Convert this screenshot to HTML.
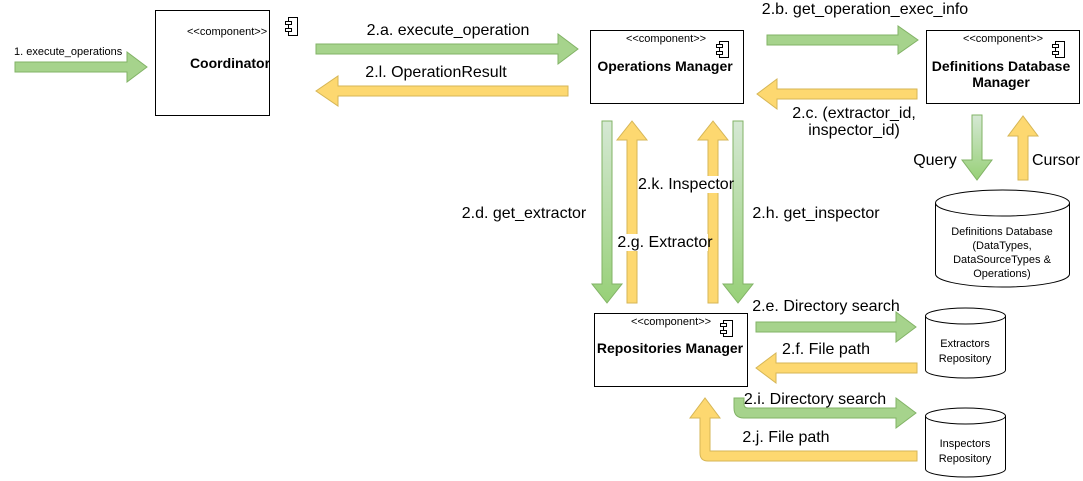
<!DOCTYPE html>
<html><head><meta charset="utf-8"><style>
body{margin:0;background:#fff;}
svg{display:block;font-family:"Liberation Sans",Arial,sans-serif;}
.g{fill:#a6d38c;stroke:#82b366;stroke-width:1;}
.y{fill:#fdd870;stroke:#d6b656;stroke-width:1;}
.box{fill:#fff;stroke:#000;stroke-width:1;}
.t{font-size:16px;fill:#000;}
.s{font-size:11px;fill:#000;}
.b{font-size:14px;font-weight:bold;fill:#000;}
</style></head><body>
<svg width="1083" height="481" viewBox="0 0 1083 481">
<defs>
<linearGradient id="gv" x1="0" y1="0" x2="0" y2="1"><stop offset="0" stop-color="#d5e8d4"/><stop offset="1" stop-color="#97d077"/></linearGradient>
</defs>
<polygon class="g" points="15,62 127,62 127,52 147,67 127,82 127,72 15,72"/>
<text class="s" x="14" y="55">1. execute_operations</text>
<rect class="box" x="155.5" y="10.5" width="114" height="105"/>
<text class="s" x="187" y="35">&lt;&lt;component&gt;&gt;</text>
<g fill="none" stroke="#000"><rect x="288.5" y="17.5" width="9" height="18"/><rect x="285.5" y="21.5" width="6" height="3" fill="#fff"/><rect x="285.5" y="28.5" width="6" height="3" fill="#fff"/></g>
<text class="b" x="230" y="68" text-anchor="middle" font-size="15">Coordinator</text>
<polygon class="g" points="316,44 558,44 558,34 578,49 558,64 558,54 316,54"/>
<text class="t" x="448" y="35" text-anchor="middle">2.a. execute_operation</text>
<polygon class="y" points="568,86 338,86 338,76 316,91 338,106 338,96 568,96"/>
<text class="t" x="436" y="77" text-anchor="middle">2.l. OperationResult</text>
<rect class="box" x="590.5" y="30.5" width="153" height="73"/>
<text class="s" x="666" y="42" text-anchor="middle">&lt;&lt;component&gt;&gt;</text>
<g fill="none" stroke="#000"><rect x="719.5" y="41.5" width="9" height="16"/><rect x="716.5" y="44.5" width="6" height="3" fill="#fff"/><rect x="716.5" y="51.5" width="6" height="3" fill="#fff"/></g>
<text class="b" x="665" y="71" text-anchor="middle">Operations Manager</text>
<polygon class="g" points="767,35 898,35 898,26 918,40 898,54 898,45 767,45"/>
<text class="t" x="865" y="14" text-anchor="middle">2.b. get_operation_exec_info</text>
<rect class="box" x="926.5" y="30.5" width="153" height="73"/>
<text class="s" x="1003" y="42" text-anchor="middle">&lt;&lt;component&gt;&gt;</text>
<g fill="none" stroke="#000"><rect x="1055.5" y="41.5" width="9" height="16"/><rect x="1052.5" y="44.5" width="6" height="3" fill="#fff"/><rect x="1052.5" y="51.5" width="6" height="3" fill="#fff"/></g>
<text class="b" x="1001" y="71" text-anchor="middle">Definitions Database</text>
<text class="b" x="1001" y="87" text-anchor="middle">Manager</text>
<polygon class="y" points="917,89 777,89 777,79 757,94 777,109 777,99 917,99"/>
<text class="t" x="854" y="118" text-anchor="middle">2.c. (extractor_id,</text>
<text class="t" x="854" y="135" text-anchor="middle">inspector_id)</text>
<polygon class="g" style="fill:url(#gv)" points="972,115 982,115 982,160 992,160 977,180 962,160 972,160"/>
<text class="t" x="935" y="165" text-anchor="middle">Query</text>
<polygon class="y" points="1018,180 1028,180 1028,136 1038,136 1023,116 1008,136 1018,136"/>
<text class="t" x="1056" y="165" text-anchor="middle">Cursor</text>
<path fill="#fff" stroke="#000" d="M935.5,203 A67,13 0 0 1 1069.5,203 L1069.5,274 A67,13 0 0 1 935.5,274 Z"/>
<path fill="none" stroke="#000" d="M935.5,203 A67,13 0 0 0 1069.5,203"/>
<g class="s" text-anchor="middle" font-size="12"><text x="1002" y="235">Definitions Database</text><text x="1002" y="249">(DataTypes,</text><text x="1002" y="263">DataSourceTypes &amp;</text><text x="1002" y="277">Operations)</text></g>
<polygon class="g" style="fill:url(#gv)" points="602,121 612,121 612,284 622,284 607,303 592,284 602,284"/>
<polygon class="y" points="627,303 637,303 637,140 647,140 632,121 617,140 627,140"/>
<polygon class="y" points="708,303 718,303 718,140 728,140 713,121 698,140 708,140"/>
<polygon class="g" style="fill:url(#gv)" points="733,121 743,121 743,284 753,284 738,303 723,284 733,284"/>
<text class="t" x="524" y="218" text-anchor="middle">2.d. get_extractor</text>
<rect x="644" y="176" width="84" height="17" fill="#fff"/>
<text class="t" x="686" y="189" text-anchor="middle" font-size="14.5">2.k. Inspector</text>
<rect x="622" y="234" width="86" height="17" fill="#fff"/>
<text class="t" x="665" y="247" text-anchor="middle" font-size="14.5">2.g. Extractor</text>
<text class="t" x="816" y="218" text-anchor="middle">2.h. get_inspector</text>
<rect class="box" x="594.5" y="313.5" width="153" height="73"/>
<text class="s" x="671" y="325" text-anchor="middle">&lt;&lt;component&gt;&gt;</text>
<g fill="none" stroke="#000"><rect x="723.5" y="320.5" width="9" height="16"/><rect x="720.5" y="323.5" width="6" height="3" fill="#fff"/><rect x="720.5" y="330.5" width="6" height="3" fill="#fff"/></g>
<text class="b" x="670" y="353" text-anchor="middle">Repositories Manager</text>
<polygon class="g" points="756,322 896,322 896,312 916,327 896,342 896,332 756,332"/>
<text class="t" x="826" y="311" text-anchor="middle">2.e. Directory search</text>
<polygon class="y" points="917,363 776,363 776,353 756,368 776,383 776,373 917,373"/>
<text class="t" x="826" y="354" text-anchor="middle">2.f. File path</text>
<path fill="#fff" stroke="#000" d="M925.5,316 A40,8 0 0 1 1005.5,316 L1005.5,370 A40,8 0 0 1 925.5,370 Z"/>
<path fill="none" stroke="#000" d="M925.5,316 A40,8 0 0 0 1005.5,316"/>
<g class="s" text-anchor="middle" font-size="13"><text x="965" y="347">Extractors</text><text x="965" y="362">Repository</text></g>
<path class="g" d="M734,398 L744,398 L744,404 Q744,408 748,408 L896,408 L896,398 L916,413 L896,428 L896,418 L744,418 Q734,418 734,408 Z"/>
<text class="t" x="815" y="404" text-anchor="middle">2.i. Directory search</text>
<path class="y" d="M917,451 L917,461 L708,461 Q700,461 700,453 L700,418 L690,418 L705,398 L720,418 L710,418 L710,451 Z"/>
<text class="t" x="786" y="442" text-anchor="middle">2.j. File path</text>
<path fill="#fff" stroke="#000" d="M925.5,416 A40,8 0 0 1 1005.5,416 L1005.5,469 A40,8 0 0 1 925.5,469 Z"/>
<path fill="none" stroke="#000" d="M925.5,416 A40,8 0 0 0 1005.5,416"/>
<g class="s" text-anchor="middle" font-size="13"><text x="965" y="447">Inspectors</text><text x="965" y="462">Repository</text></g>
</svg>
</body></html>
